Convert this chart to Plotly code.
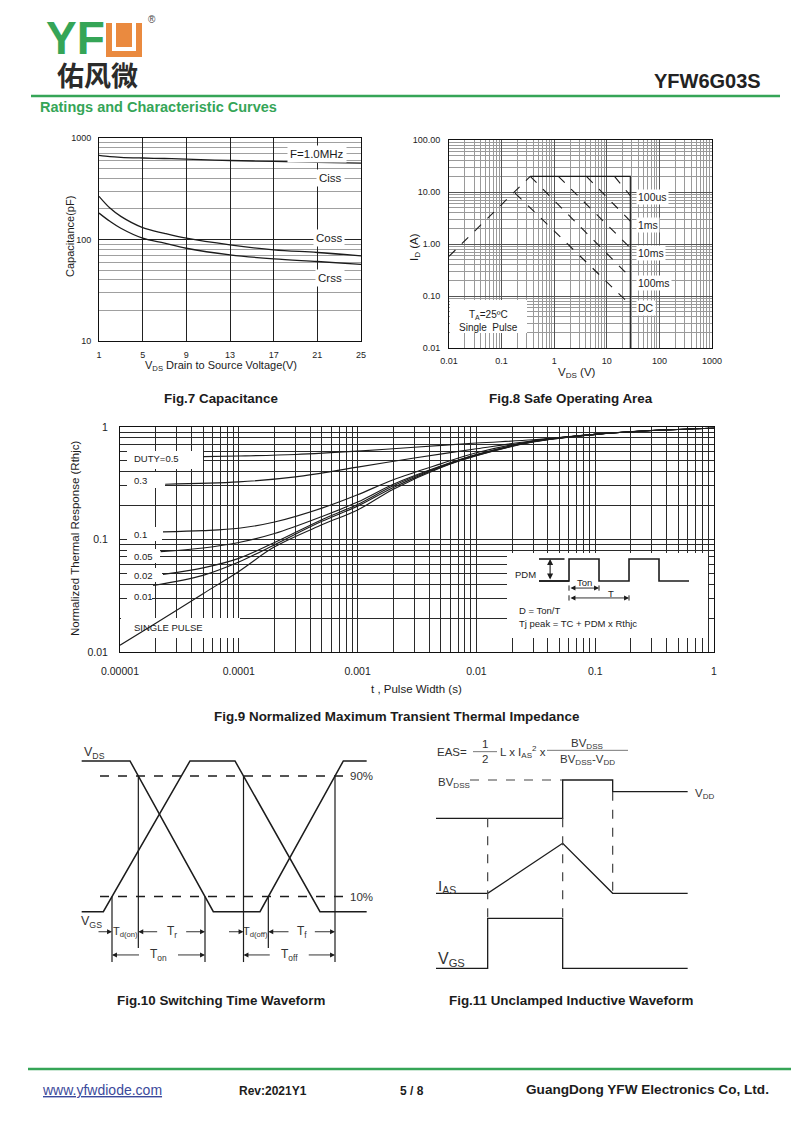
import math
import plotly.graph_objects as go

# page is 800x1131; the html body adds an 8px margin, so the figure is drawn 8px in
W, H = 800, 1131
OFF = 8
WF, HF = W - 2 * OFF, H - 2 * OFF
def PX(x): return (x - OFF) / WF
def PY(y): return 1 - (y - OFF) / HF

GREEN = "#35a557"
ORANGE = "#ea8a3f"
INK = "#1c1c1c"
SANS = "Liberation Sans, Arial, Helvetica, sans-serif"

# ---------------- Fig.7 Capacitance ----------------
cap_vds = [1, 2, 3, 5, 7, 9, 13, 17, 21, 25]
cap_ciss = [675, 655, 645, 635, 628, 620, 600, 588, 575, 566]
cap_coss = [266, 204, 169, 131, 115, 103, 88.5, 79, 74.5, 69]
cap_crss = [182, 151, 129, 103, 92, 82, 70.6, 64.4, 60.7, 57]
cap_xticks = [1, 5, 9, 13, 17, 21, 25]
cap_yticks = [10, 100, 1000]

# ---------------- Fig.8 Safe Operating Area ----------------
soa_rds_v = [0.01, 0.35]
soa_rds_i = [0.58, 20]
soa_lim_v = [0.35, 28, 28]
soa_lim_i = [20, 20, 0.01]
soa_names = ["100us", "1ms", "10ms", "100ms", "DC"]
soa_v = [[14, 28], [4.1, 28], [1.2, 28], [0.35, 28], [0.18, 28]]
soa_i = [[20, 8.5], [20, 2.75], [20, 0.84], [20, 0.23], [9.5, 0.068]]
soa_label_i = [8.0, 2.3, 0.67, 0.178, 0.059]
soa_xticks = [0.01, 0.1, 1, 10, 100, 1000]
soa_xtext = ["0.01", "0.1", "1", "10", "100", "1000"]
soa_yticks = [0.01, 0.1, 1, 10, 100]
soa_ytext = ["0.01", "0.10", "1.00", "10.00", "100.00"]

# ---------------- Fig.9 Transient thermal impedance ----------------
zth_names = ["DUTY=0.5", "0.3", "0.1", "0.05", "0.02", "0.01", "SINGLE PULSE"]
zth_t = [
    [5e-5, 1e-4, 3e-4, 1e-3, 3e-3, 1e-2, 3e-2, 1e-1, 3e-1, 1],
    [2.4e-5, 1e-4, 3e-4, 1e-3, 3e-3, 1e-2, 3e-2, 1e-1, 3e-1, 1],
    [2.3e-5, 5e-5, 1e-4, 2e-4, 5e-4, 1e-3, 2e-3, 5e-3, 1e-2, 3e-2, 0.1, 0.3, 1],
    [2.2e-5, 5e-5, 1e-4, 2e-4, 5e-4, 1e-3, 2e-3, 5e-3, 1e-2, 3e-2, 0.1, 0.3, 1],
    [2.3e-5, 5e-5, 1e-4, 2e-4, 5e-4, 1e-3, 2e-3, 5e-3, 1e-2, 3e-2, 0.1, 0.3, 1],
    [1.9e-5, 5e-5, 1e-4, 2e-4, 5e-4, 1e-3, 2e-3, 5e-3, 1e-2, 3e-2, 0.1, 0.3, 1],
    [1e-5, 2e-5, 5e-5, 1e-4, 2e-4, 5e-4, 1e-3, 2e-3, 5e-3, 1e-2, 3e-2, 0.1, 0.3, 1],
]
zth_z = [
    [0.545, 0.552, 0.57, 0.61, 0.66, 0.72, 0.77, 0.86, 0.93, 0.975],
    [0.31, 0.325, 0.36, 0.44, 0.53, 0.64, 0.755, 0.86, 0.93, 0.975],
    [0.117, 0.12, 0.126, 0.143, 0.19, 0.25, 0.34, 0.47, 0.59, 0.75, 0.86, 0.93, 0.975],
    [0.078, 0.084, 0.094, 0.113, 0.16, 0.215, 0.31, 0.45, 0.57, 0.745, 0.86, 0.93, 0.975],
    [0.049, 0.056, 0.068, 0.094, 0.15, 0.205, 0.30, 0.445, 0.565, 0.74, 0.86, 0.93, 0.975],
    [0.039, 0.048, 0.063, 0.09, 0.145, 0.198, 0.29, 0.44, 0.56, 0.74, 0.86, 0.93, 0.975],
    [0.0115, 0.018, 0.033, 0.052, 0.086, 0.135, 0.183, 0.28, 0.435, 0.555, 0.735, 0.86, 0.93, 0.975],
]
zth_label_py = [459, 481, 534, 556, 575, 596, 627]
zth_box = [(127, 203, 451, 469), (127, 165, 472, 488), (127, 162, 527, 541),
           (127, 160, 549, 563), (127, 162, 568, 582), (127, 152, 589, 603), (121, 240, 618, 638)]
zth_xticks = [1e-5, 1e-4, 1e-3, 1e-2, 1e-1, 1]
zth_xtext = ["0.00001", "0.0001", "0.001", "0.01", "0.1", "1"]
zth_yticks = [0.01, 0.1, 1]
zth_ytext = ["0.01", "0.1", "1"]
# inset duty-cycle sketch (time in Ton units, level 0/1)
pulse_t = [0, 1, 1, 2, 2, 3, 3, 4, 4, 5]
pulse_v = [0, 0, 1, 1, 0, 0, 1, 1, 0, 0]

# ---------------- Fig.10 switching waveform (time units, level 0..1) ----------------
sw_vds_t = [0, 14.5, 39.5, 53.5, 78.5, 85.5]
sw_vds_v = [1, 1, 0, 0, 1, 1]
sw_vgs_t = [0, 6.5, 32.5, 46, 71.5, 85.5]
sw_vgs_v = [0, 0, 1, 1, 0, 0]
sw_levels = [0.9, 0.1]
sw_level_span = [5.5, 79.6]

# ---------------- Fig.11 unclamped inductive waveform ----------------
ui_vds_t = [0, 38, 38, 53, 53, 75.5]
ui_vds_y = [45, 45, 56.5, 56.5, 53, 53]
ui_ias_t = [0, 15.5, 38, 53, 75.5]
ui_ias_y = [22.5, 22.5, 37.5, 22.5, 22.5]
ui_vgs_t = [0, 15.5, 15.5, 38, 38, 75.5]
ui_vgs_y = [0, 0, 15, 15, 0, 0]

# subplot pixel frames and ranges
F7X, F7Y = (99, 361), (138, 341)
F8X, F8Y = (449, 712), (140, 348)
F9X, F9Y = (120, 714), (427, 652)
F8R = ((-2, 3), (-2, 2))
F9R = ((-5, 0), (-2, 0))

fig = go.Figure()

def txt(x, y, s, size=11, xa="center", ya="middle", xref="paper", yref="paper",
        color=INK, angle=0, family=SANS, bg=None, pad=1):
    if xref == "paper":
        x = PX(x)
    if yref == "paper":
        y = PY(y)
    fig.add_annotation(x=x, y=y, xref=xref, yref=yref, text=s, showarrow=False,
                       xanchor=xa, yanchor=ya, textangle=angle,
                       font=dict(size=size, color=color, family=family),
                       bgcolor=bg, borderpad=pad)

def arrow(xh, yh, xt, yt, ax_, ay_, both=False, w=0.9):
    fig.add_annotation(x=xh, y=yh, ax=xt, ay=yt, xref=ax_, yref=ay_, axref=ax_, ayref=ay_,
                       text="", showarrow=True, arrowhead=2, arrowsize=1.1, arrowwidth=w,
                       arrowcolor=INK, arrowside="end+start" if both else "end",
                       standoff=0, startstandoff=0)

def line(xs, ys, xa, ya, width=1.3, dash="solid", color=INK, shape="linear"):
    fig.add_trace(go.Scatter(x=xs, y=ys, xaxis=xa, yaxis=ya, mode="lines",
                             line=dict(color=color, width=width, dash=dash, shape=shape),
                             hoverinfo="skip", showlegend=False))

def logbox(frame_x, frame_y, rng, x0, x1, y0, y1, xa, ya):
    """white patch (page-pixel rectangle) drawn as a filled trace above the grid"""
    (a, b), (c, d) = frame_x, frame_y
    (rx0, rx1), (ry0, ry1) = rng
    fx = lambda x: 10 ** (rx0 + (x - a) / (b - a) * (rx1 - rx0))
    fy = lambda y: 10 ** (ry0 + (d - y) / (d - c) * (ry1 - ry0))
    xs = [fx(x0), fx(x1), fx(x1), fx(x0), fx(x0)]
    ys = [fy(y1), fy(y1), fy(y0), fy(y0), fy(y1)]
    fig.add_trace(go.Scatter(x=xs, y=ys, xaxis=xa, yaxis=ya, mode="lines", fill="toself",
                             fillcolor="white", line=dict(width=0, color="white"),
                             hoverinfo="skip", showlegend=False))

def decades(lo, hi):
    return [k * 10.0 ** e for e in range(lo, hi) for k in range(2, 10)]

# ================= Fig.7 =================
for ys in (cap_ciss, cap_coss, cap_crss):
    line(cap_vds, ys, "x", "y", width=1.3, shape="spline")
for s, yy in [("F=1.0MHz", 154), ("Ciss", 178), ("Coss", 238), ("Crss", 278)]:
    txt(347 if s == "F=1.0MHz" else 345, yy, s, size=11.5, xa="right", bg="white", pad=2)

# ================= Fig.8 =================
logbox(F8X, F8Y, F8R, 450, 527, 300, 333, "x2", "y2")
line(soa_rds_v, soa_rds_i, "x2", "y2", width=1.1, dash="dash")
line(soa_lim_v, soa_lim_i, "x2", "y2", width=1.2)
for v, i in zip(soa_v, soa_i):
    line(v, i, "x2", "y2", width=1.1, dash="dash")
for s, yy in zip(soa_names, soa_label_i):
    fig.add_annotation(x=math.log10(36), y=math.log10(yy), xref="x2", yref="y2", text=s,
                       showarrow=False, xanchor="left", yanchor="middle", bgcolor="white",
                       borderpad=1, font=dict(size=10.5, color=INK, family=SANS))
txt(488, 315, "T<sub>A</sub>=25ºC", size=10)
txt(488, 327, "Single  Pulse", size=10)

# ================= Fig.9 =================
for (x0, x1, y0, y1) in zth_box + [(507, 708, 553, 638)]:
    logbox(F9X, F9Y, F9R, x0, x1, y0, y1, "x3", "y3")
for t, z in zip(zth_t, zth_z):
    line(t, z, "x3", "y3", width=1.15, shape="spline")
for s, yy in zip(zth_names, zth_label_py):
    txt(132, yy, s, size=9.5, xa="left")

# inset (axis 4)
line(pulse_t, pulse_v, "x4", "y4", width=1.6)
line([0, 0.85], [1, 1], "x4", "y4", width=1.6)
line([0, 1], [0, 0], "x4", "y4", width=1.6)
arrow(0.37, 1, 0.37, 0, "x4", "y4", both=True, w=1.1)
arrow(2, -0.32, 1, -0.32, "x4", "y4", both=True)
arrow(3, -0.77, 1, -0.77, "x4", "y4", both=True)
for tt, yy in [(1, -0.32), (2, -0.32), (1, -0.77), (3, -0.77)]:
    line([tt, tt], [yy - 0.12, yy + 0.12], "x4", "y4", width=1)
for x, y, s, xa in [(-0.45, 0.3, "PDM", "center"), (1.5, -0.08, "Ton", "center"),
                    (2.4, -0.56, "T", "center"), (-0.72, -1.32, "D = Ton/T", "left"),
                    (-0.72, -1.95, "Tj peak = TC + PDM x Rthjc", "left")]:
    fig.add_annotation(x=x, y=y, xref="x4", yref="y4", text=s, showarrow=False, xanchor=xa,
                       font=dict(size=9.5, color=INK, family=SANS))

# ================= Fig.10 =================
def cross(t, v, level, seg):
    t0, t1, v0, v1 = t[seg], t[seg + 1], v[seg], v[seg + 1]
    return t0 + (level - v0) / (v1 - v0) * (t1 - t0)

line(sw_vds_t, sw_vds_v, "x5", "y5", width=1.5)
line(sw_vgs_t, sw_vgs_v, "x5", "y5", width=1.5)
for lv in sw_levels:
    line(sw_level_span, [lv, lv], "x5", "y5", width=1.5, dash="dash")
ta = cross(sw_vgs_t, sw_vgs_v, 0.1, 1)
tb = cross(sw_vds_t, sw_vds_v, 0.9, 1)
tc = cross(sw_vds_t, sw_vds_v, 0.1, 1)
td = cross(sw_vgs_t, sw_vgs_v, 0.9, 3)
te = cross(sw_vds_t, sw_vds_v, 0.1, 3)
tf = cross(sw_vds_t, sw_vds_v, 0.9, 3)
R1, R2 = -0.133, -0.287
for tt, top, bot in [(ta, 0.1, -0.334), (tb, 0.9, -0.241), (tc, 0.1, -0.334),
                     (td, 0.9, -0.334), (te, 0.1, -0.241), (tf, 0.9, -0.334)]:
    line([tt, tt], [top, bot], "x5", "y5", width=1.2)
arrow(ta, R1, ta - 4.5, R1, "x5", "y5")
arrow(td, R1, td - 4.8, R1, "x5", "y5")
for t1, t2, g, lab in [(tb, tc, 3.9, "T<sub>r</sub>"), (te, tf, 3.5, "T<sub>f</sub>")]:
    c = (t1 + t2) / 2
    arrow(t1, R1, c - g, R1, "x5", "y5")
    arrow(t2, R1, c + g, R1, "x5", "y5")
    fig.add_annotation(x=c, y=R1, xref="x5", yref="y5", text=lab, showarrow=False,
                       font=dict(size=12, color="#333", family=SANS))
for t1, t2, lab in [(ta, tb, "T<sub>d(on)</sub>"), (td, te, "T<sub>d(off)</sub>")]:
    fig.add_annotation(x=(t1 + t2) / 2, y=R1, xref="x5", yref="y5", text=lab, showarrow=False,
                       font=dict(size=11, color="#333", family=SANS))
for t1, t2, lab in [(ta, tc, "T<sub>on</sub>"), (td, tf, "T<sub>off</sub>")]:
    c = (t1 + t2) / 2
    arrow(t1, R2, c - 5.4, R2, "x5", "y5")
    arrow(t2, R2, c + 5.4, R2, "x5", "y5")
    fig.add_annotation(x=c, y=R2, xref="x5", yref="y5", text=lab, showarrow=False,
                       font=dict(size=12, color="#333", family=SANS))
fig.add_annotation(x=0, y=1.05, xref="x5", yref="y5", text="V<sub>DS</sub>", showarrow=False,
                   xanchor="left", font=dict(size=12.5, color="#333", family=SANS))
fig.add_annotation(x=-0.8, y=-0.07, xref="x5", yref="y5", text="V<sub>GS</sub>", showarrow=False,
                   xanchor="left", font=dict(size=12.5, color="#333", family=SANS))
for lv, s in zip(sw_levels, ["90%", "10%"]):
    fig.add_annotation(x=sw_level_span[1] + 0.4, y=lv, xref="x5", yref="y5", text=s,
                       showarrow=False, xanchor="left",
                       font=dict(size=11.5, color="#333", family=SANS))

# ================= Fig.11 =================
line(ui_vds_t, ui_vds_y, "x6", "y6", width=1.3)
line(ui_ias_t, ui_ias_y, "x6", "y6", width=1.3)
line(ui_vgs_t, ui_vgs_y, "x6", "y6", width=1.3)
line([10.2, 38], [56.5, 56.5], "x6", "y6", width=1.2, dash="dash", color="#444")
line([15.5, 15.5], [45, 15], "x6", "y6", width=1.2, dash="dash", color="#444")
line([38, 38], [45, 15], "x6", "y6", width=1.2, dash="dash", color="#444")
line([53, 53], [53, 22.5], "x6", "y6", width=1.2, dash="dash", color="#444")
for x, y, s, sz, xa in [(0, 55.7, "BV<sub>DSS</sub>", 11.5, "left"),
                        (77.0, 52.2, "V<sub>DD</sub>", 11.5, "left"),
                        (0, 24.6, "I<sub>AS</sub>", 15, "left"),
                        (0, 2.6, "V<sub>GS</sub>", 16, "left"),
                        (-0.3, 65, "EAS=", 11.5, "left"),
                        (14.7, 67.2, "1", 11.5, "center"),
                        (14.7, 62.9, "2", 11.5, "center"),
                        (18.6, 65, "L x I<sub>AS</sub><sup>2</sup> x", 11.5, "left"),
                        (45.3, 67.4, "BV<sub>DSS</sub>", 11.5, "center"),
                        (45.3, 62.6, "BV<sub>DSS</sub>-V<sub>DD</sub>", 11.5, "center")]:
    fig.add_annotation(x=x, y=y, xref="x6", yref="y6", text=s, showarrow=False, xanchor=xa,
                       font=dict(size=sz, color="#333", family=SANS))
line([11.1, 18.3], [65, 65], "x6", "y6", width=0.8, color="#555")
line([33.3, 57.6], [65.4, 65.4], "x6", "y6", width=0.8, color="#555")

# ================= axis titles & captions =================
txt(70, 237, "Capacitance(pF)", size=11, angle=-90)
txt(221, 366, "V<sub>DS</sub> Drain to Source Voltage(V)", size=11)
txt(415, 247, "I<sub>D</sub> (A)", size=11.5, angle=-90)
txt(577, 373, "V<sub>DS</sub> (V)", size=11.5)
txt(75, 538, "Normalized Thermal Response (Rthjc)", size=11.5, angle=-90)
txt(417, 689, "t , Pulse Width (s)", size=11.5)
txt(221, 398, "<b>Fig.7 Capacitance</b>", size=13.4)
txt(571, 398, "<b>Fig.8 Safe Operating Area</b>", size=13.4)
txt(396, 716, "<b>Fig.9 Normalized Maximum Transient Thermal Impedance</b>", size=13.4)
txt(221, 1000, "<b>Fig.10 Switching Time Waveform</b>", size=13.4)
txt(571, 1000, "<b>Fig.11 Unclamped Inductive Waveform</b>", size=13.4)

# ================= header / footer =================
txt(44, 38, "<b>YF</b>", size=46, xa="left", color=GREEN, family="Liberation Sans, Arial")
for (x0, y0, x1, y1, c) in [(106, 23, 142, 57, ORANGE), (112, 23, 136, 51, "white"),
                            (116, 23, 132, 47, ORANGE)]:
    fig.add_shape(type="rect", xref="paper", yref="paper", x0=PX(x0), x1=PX(x1),
                  y0=PY(y1), y1=PY(y0), fillcolor=c, line=dict(width=0), layer="above")
txt(152, 19, "®", size=10, color="#444")
txt(97, 74, "<b>佑风微</b>", size=27, color="#2b2b2b", family="Noto Sans CJK SC")
txt(763, 81, "<b>YFW6G03S</b>", size=20, xa="right", color="#222")
fig.add_shape(type="line", xref="paper", yref="paper", x0=PX(31), x1=PX(780), y0=PY(96), y1=PY(96),
              line=dict(color=GREEN, width=2.5))
txt(38, 107, "<b>Ratings and Characteristic Curves</b>", size=14.5, xa="left", color=GREEN)
fig.add_shape(type="line", xref="paper", yref="paper", x0=PX(28), x1=PX(791), y0=PY(1069), y1=PY(1069),
              line=dict(color=GREEN, width=2.5))
txt(40, 1090, "<u>www.yfwdiode.com</u>", size=14, xa="left", color="#3b4a9b")
txt(273, 1091, "<b>Rev:2021Y1</b>", size=12)
txt(412, 1091, "<b>5 / 8</b>", size=12)
txt(771, 1089, "<b>GuangDong YFW Electronics Co, Ltd.</b>", size=13.6, xa="right")

# ================= axes =================
def frame(**kw):
    base = dict(showline=True, mirror=True, linecolor="#111", linewidth=1, ticks="",
                zeroline=False, fixedrange=True, automargin=False,
                tickfont=dict(size=9, color=INK, family=SANS))
    base.update(kw)
    return base

hidden = dict(visible=False, fixedrange=True, showgrid=False, zeroline=False, automargin=False)

fig.update_layout(
    width=WF, height=HF, autosize=False,
    margin=dict(l=0, r=0, t=0, b=0, pad=0, autoexpand=False),
    paper_bgcolor="white", plot_bgcolor="white", showlegend=False,
    font=dict(family=SANS, color=INK),
    xaxis=frame(domain=[PX(F7X[0]), PX(F7X[1])], range=[1, 25], anchor="y",
                tickmode="array", tickvals=cap_xticks, ticktext=[str(v) for v in cap_xticks],
                showgrid=True, gridcolor="#222", gridwidth=1.1, ticklabelstandoff=5),
    yaxis=frame(domain=[PY(F7Y[1]), PY(F7Y[0])], type="log", range=[1, 3], anchor="x",
                tickmode="array", tickvals=cap_yticks, ticktext=[str(v) for v in cap_yticks],
                showgrid=True, gridcolor="#222", gridwidth=1.1, ticklabelstandoff=5,
                minor=dict(tickmode="array", tickvals=decades(1, 3), showgrid=True,
                           gridcolor="#a0a0a0", gridwidth=1, ticks="")),
    xaxis2=frame(domain=[PX(F8X[0]), PX(F8X[1])], type="log", range=list(F8R[0]), anchor="y2",
                 tickmode="array", tickvals=soa_xticks, ticktext=soa_xtext,
                 showgrid=True, gridcolor="#555", gridwidth=1, ticklabelstandoff=4,
                 minor=dict(tickmode="array", tickvals=decades(-2, 3), showgrid=True,
                            gridcolor="#9a9a9a", gridwidth=0.8, ticks="")),
    yaxis2=frame(domain=[PY(F8Y[1]), PY(F8Y[0])], type="log", range=list(F8R[1]), anchor="x2",
                 tickmode="array", tickvals=soa_yticks, ticktext=soa_ytext,
                 showgrid=True, gridcolor="#555", gridwidth=1, ticklabelstandoff=6,
                 minor=dict(tickmode="array", tickvals=decades(-2, 2), showgrid=True,
                            gridcolor="#9a9a9a", gridwidth=0.8, ticks="")),
    xaxis3=frame(domain=[PX(F9X[0]), PX(F9X[1])], type="log", range=list(F9R[0]), anchor="y3",
                 tickmode="array", tickvals=zth_xticks, ticktext=zth_xtext,
                 showgrid=True, gridcolor="#2a2a2a", gridwidth=1.1, ticklabelstandoff=9,
                 tickfont=dict(size=10.5, color=INK, family=SANS),
                 minor=dict(tickmode="array", tickvals=decades(-5, 0), showgrid=True,
                            gridcolor="#2a2a2a", gridwidth=1.1, ticks="")),
    yaxis3=frame(domain=[PY(F9Y[1]), PY(F9Y[0])], type="log", range=list(F9R[1]), anchor="x3",
                 tickmode="array", tickvals=zth_yticks, ticktext=zth_ytext,
                 showgrid=True, gridcolor="#2a2a2a", gridwidth=1.1, ticklabelstandoff=9,
                 tickfont=dict(size=10.5, color=INK, family=SANS),
                 minor=dict(tickmode="array", tickvals=decades(-2, 0), showgrid=True,
                            gridcolor="#2a2a2a", gridwidth=1.1, ticks="")),
    xaxis4=dict(hidden, domain=[PX(507), PX(708)], range=[-1.067, 5.633], anchor="y4"),
    yaxis4=dict(hidden, domain=[PY(637), PY(553)], range=[-2.545, 1.273], anchor="x4"),
    xaxis5=dict(hidden, domain=[PX(60), PX(390)], range=[-6.5, 92.5], anchor="y5"),
    yaxis5=dict(hidden, domain=[PY(975), PY(740)], range=[-0.42, 1.139], anchor="x5"),
    xaxis6=dict(hidden, domain=[PX(410), PX(740)], range=[-7.8, 91.2], anchor="y6"),
    yaxis6=dict(hidden, domain=[PY(980), PY(735)], range=[-3.51, 70.0], anchor="x6"),
)

fig.write_html("out.html")
